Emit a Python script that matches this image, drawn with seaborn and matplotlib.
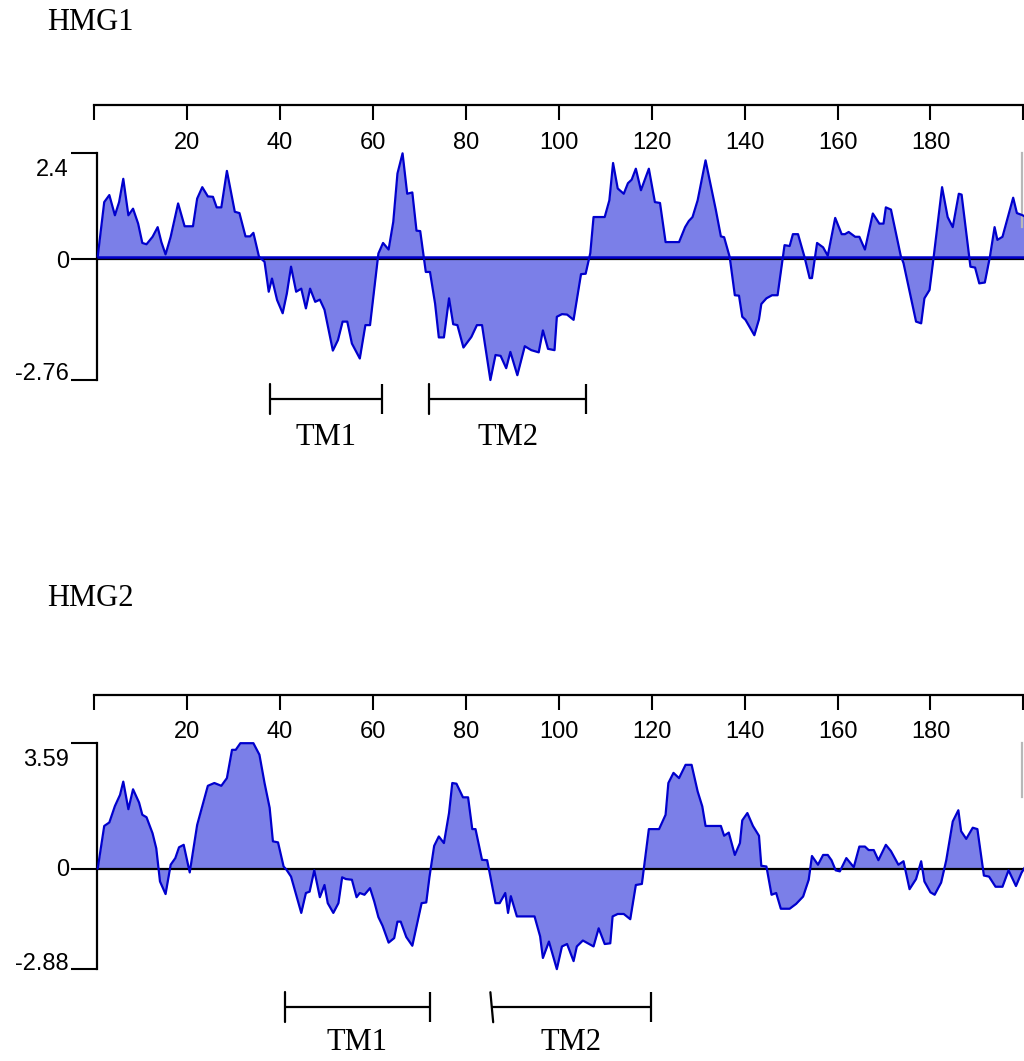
import matplotlib
matplotlib.use("Agg")
import matplotlib.pyplot as plt
import matplotlib.transforms as mtransforms
import seaborn as sns

# ------------------------------
# Hydropathy profiles of HMG1 / HMG2
# ------------------------------

# HMG1: residue position and hydropathy score
hmg1_pos = [0.8, 2.2, 3.3, 4.5, 5.4, 6.3, 7.4, 8.4, 9.5, 10.4, 11.3, 12.6, 13.7, 14.5, 15.4,
            16.5, 18.1, 19.5, 21.3, 22.2, 23.3, 24.5, 25.6, 26.4, 27.4, 28.6, 30.3, 31.3, 32.6,
            33.6, 34.3, 35.5, 36.7, 37.6, 38.3, 39.4, 40.6, 41.5, 42.4, 43.5, 44.6, 45.6, 46.5,
            47.6, 48.6, 49.6, 51.4, 52.5, 53.5, 54.5, 55.5, 57.2, 58.4, 59.4, 61.2, 62.2, 63.4,
            64.4, 65.3, 66.4, 67.4, 68.5, 69.4, 70.2, 71.4, 72.3, 73.4, 74.2, 75.3, 76.4, 77.3,
            78.2, 79.5, 81.2, 82.4, 83.5, 85.3, 86.4, 87.5, 88.7, 89.6, 91.1, 92.7, 94.1, 95.7,
            96.6, 97.7, 99.1, 99.6, 100.7, 101.8, 103.2, 104.8, 105.8, 106.8, 107.5, 109.9, 110.9,
            111.7, 112.7, 114.0, 114.9, 115.7, 116.6, 117.7, 119.4, 120.7, 121.8, 123.0, 125.9,
            127.2, 128.0, 128.8, 129.9, 131.6, 133.8, 134.9, 135.6, 136.8, 137.9, 138.8, 139.5,
            140.2, 142.1, 143.1, 143.6, 144.7, 145.9, 147.1, 148.6, 149.7, 150.4, 151.5, 152.9,
            154.0, 154.5, 155.6, 156.9, 157.9, 159.5, 160.9, 161.6, 162.4, 163.8, 164.7, 165.9,
            167.6, 169.0, 169.9, 170.4, 171.5, 173.6, 174.2, 175.3, 176.9, 178.0, 178.7, 179.8,
            180.7, 182.5, 183.7, 184.8, 186.1, 186.7, 188.6, 189.6, 190.5, 191.7, 192.8, 193.8,
            194.4, 195.5, 197.8, 198.6, 199.6, 200.6]
hmg1_val = [0.05, 1.29, 1.45, 0.99, 1.29, 1.82, 0.99, 1.14, 0.80, 0.36, 0.33, 0.50, 0.72, 0.38, 0.10,
            0.50, 1.26, 0.74, 0.74, 1.37, 1.63, 1.42, 1.41, 1.17, 1.17, 2.00, 1.07, 1.04, 0.51,
            0.51, 0.59, 0.05, -0.07, -0.75, -0.45, -0.94, -1.24, -0.79, -0.18, -0.75, -0.68, -1.13, -0.68,
            -0.98, -0.93, -1.16, -2.09, -1.85, -1.43, -1.43, -1.93, -2.27, -1.51, -1.51, 0.12, 0.36, 0.21,
            0.84, 1.94, 2.40, 1.48, 1.51, 0.64, 0.63, -0.30, -0.30, -1.02, -1.79, -1.79, -0.90, -1.49,
            -1.51, -2.02, -1.78, -1.51, -1.51, -2.76, -2.19, -2.21, -2.49, -2.12, -2.65, -1.99, -2.08, -2.13,
            -1.63, -2.05, -2.08, -1.32, -1.26, -1.27, -1.39, -0.35, -0.34, 0.13, 0.95, 0.95, 1.33,
            2.18, 1.60, 1.48, 1.72, 1.80, 2.05, 1.56, 2.05, 1.29, 1.27, 0.38, 0.38,
            0.72, 0.86, 0.95, 1.33, 2.24, 1.12, 0.51, 0.49, 0.04, -0.83, -0.84, -1.32,
            -1.39, -1.74, -1.38, -1.03, -0.90, -0.83, -0.83, 0.31, 0.29, 0.56, 0.56, 0.04,
            -0.44, -0.44, 0.36, 0.26, 0.07, 0.93, 0.56, 0.56, 0.61, 0.50, 0.50, 0.21,
            1.03, 0.80, 0.80, 1.17, 1.12, 0.07, -0.10, -0.64, -1.43, -1.47, -0.90, -0.71,
            0.05, 1.63, 0.95, 0.72, 1.48, 1.46, -0.18, -0.20, -0.56, -0.54, 0.05, 0.72,
            0.43, 0.50, 1.39, 1.04, 1.00, 0.95]

# HMG2: residue position and hydropathy score
hmg2_pos = [0.8, 2.2, 3.3, 4.5, 5.6, 6.3, 7.4, 8.4, 9.7, 10.4, 11.3, 12.6, 13.4, 14.2, 15.4,
            16.5, 17.5, 18.3, 19.3, 20.6, 22.2, 24.5, 25.9, 27.4, 28.6, 29.7, 30.5, 31.5, 34.3,
            35.6, 36.7, 37.8, 38.5, 39.6, 40.8, 41.4, 42.4, 44.6, 45.6, 46.4, 47.4, 48.6, 49.6,
            50.3, 51.5, 52.6, 53.4, 54.2, 55.5, 56.5, 57.2, 58.2, 59.4, 60.3, 61.2, 62.1, 63.4,
            64.6, 65.3, 66.0, 67.2, 68.5, 70.5, 71.5, 72.2, 73.2, 74.2, 75.3, 76.4, 77.1, 78.0,
            79.4, 80.5, 81.4, 82.1, 83.5, 84.6, 85.3, 86.4, 87.3, 88.5, 89.1, 89.7, 91.0, 94.8,
            96.0, 96.6, 97.9, 99.6, 100.7, 101.8, 103.2, 103.9, 105.2, 107.5, 108.6, 109.9, 111.1,
            111.6, 112.7, 114.0, 115.4, 116.6, 117.9, 119.4, 121.6, 123.0, 123.6, 124.7, 125.9,
            127.3, 128.6, 129.9, 130.9, 131.6, 134.9, 135.6, 136.6, 137.9, 139.0, 139.5, 140.6,
            141.8, 143.1, 143.6, 144.7, 145.8, 146.8, 147.8, 149.7, 151.1, 152.6, 153.8, 154.5,
            155.8, 156.9, 157.9, 158.7, 159.6, 160.5, 161.9, 163.5, 164.7, 165.9, 166.7, 167.8,
            168.8, 170.4, 171.5, 173.1, 174.2, 175.5, 176.9, 178.0, 178.7, 180.0, 180.9, 182.3,
            183.4, 184.8, 186.0, 186.6, 187.7, 189.1, 190.1, 191.5, 192.6, 194.0, 195.5, 196.8,
            198.4, 199.6, 200.6]
hmg2_val = [0.0, 1.22, 1.32, 1.79, 2.11, 2.49, 1.70, 2.27, 1.89, 1.54, 1.47, 1.01, 0.58, -0.37, -0.73,
            0.11, 0.30, 0.61, 0.68, -0.11, 1.25, 2.37, 2.45, 2.37, 2.59, 3.40, 3.40, 3.59, 3.59,
            3.26, 2.45, 1.74, 0.78, 0.75, 0.06, -0.03, -0.23, -1.27, -0.70, -0.66, -0.05, -0.82, -0.47,
            -0.99, -1.27, -0.99, -0.25, -0.30, -0.32, -0.82, -0.70, -0.75, -0.56, -0.94, -1.39, -1.64, -2.12,
            -1.99, -1.52, -1.52, -1.96, -2.21, -0.99, -0.97, -0.23, 0.65, 0.92, 0.73, 1.59, 2.45, 2.43,
            2.04, 2.04, 1.13, 1.13, 0.25, 0.24, -0.23, -0.99, -0.99, -0.70, -1.27, -0.79, -1.37, -1.37,
            -1.94, -2.56, -2.09, -2.88, -2.23, -2.16, -2.65, -2.23, -2.06, -2.23, -1.71, -2.16, -2.14,
            -1.37, -1.30, -1.30, -1.45, -0.47, -0.44, 1.13, 1.13, 1.54, 2.45, 2.74, 2.59,
            2.97, 2.97, 2.21, 1.78, 1.22, 1.22, 0.94, 1.03, 0.39, 0.73, 1.38, 1.59,
            1.22, 0.94, 0.08, 0.06, -0.75, -0.70, -1.15, -1.15, -1.01, -0.80, -0.32, 0.36,
            0.11, 0.39, 0.39, 0.24, -0.05, -0.08, 0.30, 0.04, 0.63, 0.63, 0.53, 0.53,
            0.24, 0.68, 0.50, 0.11, 0.21, -0.59, -0.30, 0.21, -0.37, -0.68, -0.75, -0.40,
            0.24, 1.35, 1.67, 1.07, 0.85, 1.17, 1.13, -0.20, -0.23, -0.52, -0.52, -0.05,
            -0.50, -0.12, 0.10]

x_ticks = list(range(0, 201, 20))
x_tick_labels = [""] + [str(v) for v in range(20, 200, 20)] + [""]

hmg1_yticks = [-2.76, 0, 2.4]
hmg2_yticks = [-2.88, 0, 3.59]

# transmembrane segments (name, start, end)
hmg1_tm = [("TM1", 37.8, 62.0), ("TM2", 72.1, 105.9)]
hmg2_tm = [("TM1", 41.1, 72.3), ("TM2", 85.6, 119.8)]

line_color = "#0000cd"
fill_color = "#7b7fe8"
serif = ["Liberation Serif", "DejaVu Serif"]

sns.set_theme(style="white", rc={"text.color": "black", "xtick.color": "black",
                                 "ytick.color": "black", "axes.labelcolor": "black"})
plt.rcParams["font.family"] = ["Liberation Sans", "DejaVu Sans"]

fig = plt.figure(figsize=(10.24, 10.61), dpi=100)

# axes placement in figure fractions (x = 0 at 94 px, 4.647 px per residue)
x_left = 94 / 1024
x_width = 201 * 4.647 / 1024
ax1 = fig.add_axes([x_left, 1 - 460 / 1061, x_width, 355 / 1061])
ax2 = fig.add_axes([x_left, 0.0, x_width, 366 / 1061])

TICK_LEN = 18.5   # pt, left bracket ticks
SPINE_X = 0.65    # data x of the left bracket


def draw_panel(ax, pos, val, yticks, ylim, tm, tm_y, cap, lab_y, outline_zero,
               right_bounds, label_shift, tilt):
    ax.fill_between(pos, val, 0, color=fill_color, lw=0, zorder=1)
    ax.hlines(0, SPINE_X, 201, color="black", lw=1.6, zorder=2)
    if outline_zero:
        off = mtransforms.offset_copy(ax.transData, fig=fig, y=1.6, units="dots")
        ax.hlines(0, SPINE_X, 201, color=line_color, lw=1.8, transform=off, zorder=3)
    sns.lineplot(x=pos, y=val, ax=ax, color=line_color, lw=1.6, estimator=None,
                 sort=False, zorder=4)
    ax.set_xlabel("")
    ax.set_ylabel("")

    ax.set_xlim(0, 201)
    ax.set_ylim(*ylim)

    # top axis: ticks pointing in, labels under the line
    ax.set_xticks(x_ticks)
    ax.set_xticklabels(x_tick_labels)
    ax.tick_params(axis="x", top=True, bottom=False, labeltop=True, labelbottom=False,
                   direction="in", length=10.5, width=1.5, color="black",
                   pad=-27.0, labelsize=17)
    for t in ax.xaxis.get_major_ticks():
        t.label2.set_verticalalignment("center")

    # left bracket axis: tick marks from matplotlib, labels placed by hand
    ax.set_yticks(yticks)
    ax.tick_params(axis="y", left=True, right=False, labelleft=False, direction="out",
                   length=TICK_LEN, width=1.5, color="black")
    ax.yaxis.get_major_ticks()[1].tick1line.set_visible(False)
    for v, dy in zip(yticks, label_shift):
        tr = mtransforms.offset_copy(ax.transData, fig=fig, x=-(TICK_LEN + 1.7),
                                     y=dy, units="points")
        ax.text(SPINE_X, v, f"{v:g}", transform=tr, ha="right", va="center",
                fontsize=17)

    for side in ["top", "left", "right", "bottom"]:
        ax.spines[side].set_visible(side != "bottom")
        ax.spines[side].set_color("black")
        ax.spines[side].set_linewidth(1.6)
    ax.spines["top"].set_bounds(0, 200)
    ax.spines["left"].set_position(("data", SPINE_X))
    ax.spines["left"].set_bounds(yticks[0], yticks[-1])
    ax.spines["right"].set_position(("data", 199.8))
    ax.spines["right"].set_bounds(*right_bounds)
    ax.spines["right"].set_color("#b8b8b8")
    ax.grid(False)

    # transmembrane brackets
    for (name, start, end), t in zip(tm, tilt):
        ax.hlines(tm_y, start, end, color="black", lw=1.6)
        ax.plot([start - t, start + t], [tm_y + cap, tm_y - cap], color="black", lw=1.6)
        ax.vlines(end, tm_y - cap, tm_y + cap, color="black", lw=1.6)
        ax.text((start + end) / 2, lab_y, name, ha="center", va="center",
                fontsize=22, family=serif)


# label shifts in points (min, zero, max)
draw_panel(ax1, hmg1_pos, hmg1_val, hmg1_yticks, (-4.58, 3.50), hmg1_tm,
           -3.19, 0.34, -4.07, True, (0.72, 2.4), [4.0, -2.6, -11.8], [0, 0])
draw_panel(ax2, hmg2_pos, hmg2_val, hmg2_yticks, (-5.51, 4.97), hmg2_tm,
           -3.97, 0.43, -4.99, False, (2.06, 3.59), [4.0, -0.8, -11.8], [0, 0.3])

fig.text(47 / 1024, 1 - 22 / 1061, "HMG1", ha="left", va="center", fontsize=22,
         family=serif)
fig.text(47 / 1024, 1 - 598 / 1061, "HMG2", ha="left", va="center", fontsize=22,
         family=serif)

fig.savefig("out.png", dpi=100)
plt.close(fig)
